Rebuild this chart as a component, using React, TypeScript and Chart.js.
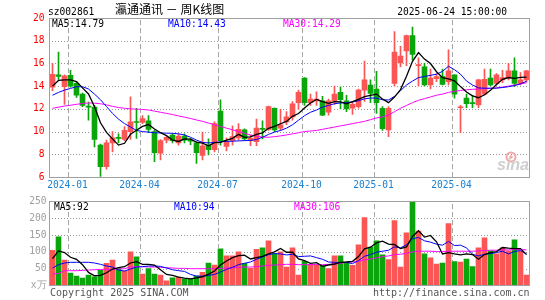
import React, { useEffect, useRef } from 'react';
import { Chart, registerables } from 'chart.js';
Chart.register(...registerables);

const weeks = [
  '2023-12-15','2023-12-22','2023-12-29','2024-01-05','2024-01-12','2024-01-19','2024-01-26','2024-02-02','2024-02-08','2024-02-23',
  '2024-03-01','2024-03-08','2024-03-15','2024-03-22','2024-03-29','2024-04-03','2024-04-12','2024-04-19','2024-04-26','2024-04-30',
  '2024-05-10','2024-05-17','2024-05-24','2024-05-31','2024-06-07','2024-06-14','2024-06-21','2024-06-28','2024-07-05','2024-07-12',
  '2024-07-19','2024-07-26','2024-08-02','2024-08-09','2024-08-16','2024-08-23','2024-08-30','2024-09-06','2024-09-13','2024-09-20',
  '2024-09-27','2024-09-30','2024-10-11','2024-10-18','2024-10-25','2024-11-01','2024-11-08','2024-11-15','2024-11-22','2024-11-29',
  '2024-12-06','2024-12-13','2024-12-20','2024-12-27','2025-01-03','2025-01-10','2025-01-17','2025-01-24','2025-01-27','2025-02-07',
  '2025-02-14','2025-02-21','2025-02-28','2025-03-07','2025-03-14','2025-03-21','2025-03-28','2025-04-03','2025-04-11','2025-04-18',
  '2025-04-25','2025-04-30','2025-05-09','2025-05-16','2025-05-23','2025-05-30','2025-06-06','2025-06-13','2025-06-20','2025-06-24',
];
const opens = [
  13.9,15.0,13.95,14.95,14.25,13.3,12.2,12.15,8.8,6.9,
  9.0,9.45,9.3,10.0,10.85,10.8,10.95,10.0,8.1,9.25,
  9.7,9.0,9.6,9.25,9.0,7.9,8.8,8.4,11.8,8.7,
  9.2,9.45,10.15,9.2,9.1,10.25,10.2,12.05,10.3,10.85,
  11.3,12.55,14.7,12.55,12.7,12.7,11.7,12.7,13.45,12.7,
  12.05,12.2,13.65,14.1,13.75,12.05,10.15,14.25,16.05,17.1,
  18.45,15.8,15.7,14.1,14.65,14.85,14.4,15.0,12.1,12.95,
  12.55,12.35,13.3,14.7,14.25,14.55,14.7,15.35,14.25,14.55,
];
const closes = [
  15.05,14.85,14.9,14.0,13.2,12.3,12.15,9.3,6.9,9.0,
  9.45,9.4,10.1,10.85,10.8,11.15,10.2,8.15,9.2,9.5,
  9.2,9.6,9.25,9.15,8.15,8.75,8.4,10.7,9.2,9.15,
  9.55,10.2,9.35,9.4,10.3,10.2,12.2,10.15,10.6,11.3,
  12.45,13.45,12.55,12.85,12.85,11.45,12.7,13.3,12.8,12.0,
  12.4,13.65,14.55,13.35,12.55,10.25,12.05,17.0,16.65,18.45,
  16.8,15.9,14.1,14.7,14.85,14.15,15.35,13.3,12.15,12.45,
  12.45,14.55,14.6,14.1,15.0,14.75,15.35,14.25,14.55,15.35,
];
const highs = [
  16.0,17.0,15.0,15.4,14.4,13.4,12.6,12.3,8.9,9.25,
  10.0,9.8,10.45,13.05,12.05,11.4,11.4,10.1,9.3,9.55,
  9.85,9.8,9.8,9.4,9.1,9.95,9.35,10.85,12.8,9.45,
  10.5,10.7,10.25,9.7,11.1,10.95,12.25,12.1,11.95,11.75,
  12.65,13.65,14.75,13.3,13.5,13.1,12.85,14.0,13.95,13.2,
  12.6,13.75,16.2,14.55,15.3,12.2,12.2,18.8,17.5,18.5,
  19.2,16.5,16.0,15.5,15.1,15.5,17.2,15.0,12.3,13.3,
  13.2,14.6,15.5,15.5,15.1,15.4,16.0,16.5,15.2,15.4,
];
const lows = [
  13.6,14.6,12.4,13.9,13.0,12.2,11.0,8.65,6.05,6.7,
  8.2,9.0,9.2,9.3,9.4,10.7,9.9,7.35,7.5,9.0,
  9.0,8.8,9.0,8.85,7.2,7.5,7.95,8.2,8.8,8.3,
  8.8,9.25,9.25,8.75,8.75,9.35,10.1,10.0,10.1,10.6,
  11.0,11.95,12.3,12.3,12.3,11.4,11.45,12.4,12.0,11.75,
  11.5,12.05,12.65,12.55,11.6,10.1,9.55,14.0,15.7,15.8,
  16.3,14.0,14.0,13.75,14.4,14.1,14.1,12.95,9.9,12.1,
  12.1,12.1,13.2,14.0,14.1,14.3,14.55,13.95,14.1,14.35,
];
const ma5 = [
  14.0,14.5,14.55,14.55,14.4,13.85,13.31,12.19,10.77,9.93,
  9.36,8.81,8.97,9.76,10.12,10.46,10.62,10.23,9.9,9.64,
  9.25,9.13,9.35,9.34,9.07,8.98,8.74,9.03,9.04,9.24,
  9.4,9.76,9.49,9.53,9.76,9.89,10.29,10.45,10.69,10.89,
  11.34,11.59,12.07,12.52,12.83,12.63,12.48,12.63,12.62,12.45,
  12.64,12.83,13.08,13.19,13.3,12.87,12.55,13.04,13.7,14.88,
  16.19,16.96,16.38,15.99,15.27,14.74,14.63,14.47,13.96,13.48,
  13.14,12.98,13.24,13.63,14.14,14.6,14.76,14.69,14.78,14.79,
];
const ma10 = [
  13.2,13.45,13.65,13.8,13.95,13.95,13.75,13.3,12.8,12.2,
  11.6,11.1,10.7,10.4,10.1,10.0,9.95,9.9,9.88,9.86,
  9.85,9.8,9.7,9.5,9.25,9.05,9.0,9.05,9.1,9.14,
  9.15,9.18,9.2,9.22,9.3,9.5,9.75,9.95,10.1,10.3,
  10.6,11.0,11.4,11.7,11.9,12.15,12.3,12.45,12.52,12.55,
  12.6,12.72,12.88,12.95,12.95,12.8,12.78,13.1,13.6,14.1,
  14.45,14.75,14.85,14.95,15.05,15.3,15.75,15.45,15.05,14.45,
  14.1,13.85,13.82,13.82,13.82,13.88,13.95,14.05,14.2,14.43,
];
const ma30 = [
  12.05,12.15,12.25,12.32,12.4,12.47,12.52,12.5,12.45,12.35,
  12.22,12.12,12.05,12.0,11.97,11.95,11.9,11.8,11.7,11.6,
  11.5,11.38,11.27,11.15,11.02,10.9,10.75,10.6,10.45,10.3,
  10.15,10.0,9.85,9.7,9.6,9.52,9.5,9.55,9.62,9.7,
  9.8,9.9,10.0,10.05,10.1,10.2,10.3,10.4,10.5,10.6,
  10.7,10.8,10.9,11.05,11.2,11.3,11.45,11.75,12.05,12.3,
  12.55,12.75,12.9,13.05,13.2,13.3,13.45,13.55,13.62,13.68,
  13.72,13.75,13.78,13.8,13.85,13.92,14.0,14.1,14.2,14.29,
];
const volumes = [
  105,145,76,37,28,22,31,26,45,66,
  76,50,44,100,85,34,50,34,31,14,
  23,25,19,18,28,39,67,61,109,88,
  88,100,66,51,108,112,133,95,100,55,
  112,31,72,62,62,59,50,88,88,67,
  60,121,202,114,133,91,77,193,55,157,
  255,162,94,82,64,67,184,71,70,79,
  56,112,142,103,94,112,103,136,103,31,
];
const volMa5 = [
  80,103,98,84,78,62,39,29,30,38,
  49,53,56,67,71,63,63,61,47,33,
  30,25,22,20,23,26,34,43,61,73,
  83,89,90,79,83,87,94,100,110,99,
  99,79,74,66,68,57,61,64,69,70,
  72,86,109,114,127,132,123,122,110,115,
  146,163,144,149,130,94,98,94,91,94,
  92,78,92,98,101,113,111,110,110,92,
];
const volMa10 = [
  52,62,67,69,69,69,69,67,63,58,
  55,46,43,49,55,56,58,58,57,52,
  47,44,42,33,28,28,30,33,40,48,
  54,62,66,70,78,85,92,95,94,91,
  93,86,87,88,83,78,70,69,68,69,
  65,74,87,92,99,102,105,115,112,121,
  139,143,133,129,123,120,131,119,120,112,
  93,88,93,95,98,102,94,101,104,94,
];
const volMa30 = [
  34,36,44,44,44,45,46,47,48,48,
  48,49,50,55,56,56,55,55,54,53,
  52,51,51,50,50,50,50,50,51,52,
  53,54,55,55,56,58,60,61,62,63,
  63,62,62,62,62,62,63,64,66,69,
  70,72,76,79,82,86,88,92,93,96,
  100,102,102,102,101,101,102,102,102,102,
  102,103,104,105,105,106,106,107,107,106,
];
const priceTicks = [6, 8, 10, 12, 14, 16, 18, 20];
const volumeTicks = [0, 50, 100, 150, 200, 250];

const RED = '#fa5656';
const GREEN = '#0aa50a';
const MONO = '"DejaVu Sans Mono", monospace';
const last = (a: number[]) => a[a.length - 1];
const colorAt = (i: number) => (closes[i] >= opens[i] ? RED : GREEN);
const quarterStart = (i: any) => {
  if (typeof i !== 'number' || i <= 0 || i >= weeks.length) return false;
  const m = weeks[i].slice(5, 7);
  return weeks[i - 1].slice(5, 7) !== m && ['01', '04', '07', '10'].includes(m);
};

const xScale = (showLabels: boolean, h: number) => ({
  type: 'category' as const,
  offset: true,
  afterFit: (a: any) => { a.height = h; },
  grid: { display: false, drawTicks: false },
  border: { display: false },
  ticks: {
    display: showLabels,
    autoSkip: false,
    maxRotation: 0,
    minRotation: 0,
    labelOffset: -3,
    padding: 3,
    color: '#1a80d0',
    font: { family: MONO, size: 9.6 },
    callback: (_v: any, i: number) => (quarterStart(i) ? weeks[i].slice(0, 7) : ''),
  },
});

// Grid pixels placed with the chart's own scales; only background pixels are painted,
// so the grid stays behind the candles, bars and lines.
const paintGrid = (chart: any, ticks: number[]) => {
  const { ctx, chartArea: a, scales } = chart;
  const x = scales.x, y = scales.y;
  const W = chart.canvas.width, H = chart.canvas.height;
  const img = ctx.getImageData(0, 0, W, H);
  const d = img.data;
  const put = (px: number, py: number, g: number) => {
    if (px < 0 || py < 0 || px >= W || py >= H) return;
    const k = (py * W + px) * 4;
    const bg = d[k + 3] < 40 || (d[k] > 240 && d[k + 1] > 240 && d[k + 2] > 240);
    if (!bg) return;
    d[k] = g; d[k + 1] = g; d[k + 2] = g; d[k + 3] = 255;
  };
  const L = Math.round(a.left), R = Math.round(a.right), T = Math.round(a.top), B = Math.round(a.bottom);
  ticks.slice(1, -1).forEach((v) => {
    const py = Math.round(y.getPixelForValue(v));
    for (let px = L + 2; px < R; px += 3) put(px, py, 150);
  });
  const half = (x.getPixelForValue(1) - x.getPixelForValue(0)) / 2;
  for (let i = 0; i < weeks.length; i++) {
    if (!quarterStart(i)) continue;
    const px = Math.round(x.getPixelForValue(i) - half);
    for (let py = T + 2; py < B; py++) {
      if ((py - T - 2) % 8 < 5) put(px, py, 165);
    }
  }
  ctx.putImageData(img, 0, 0);
};

const frame = (chart: any) => {
  const { ctx, chartArea: a } = chart;
  const x0 = Math.floor(a.left) + 0.5, y0 = Math.floor(a.top) + 0.5;
  const x1 = Math.floor(a.right) + 0.5, y1 = Math.floor(a.bottom) + 0.5;
  ctx.save();
  ctx.strokeStyle = '#a0a0a0';
  ctx.lineWidth = 1;
  ctx.strokeRect(x0, y0, x1 - x0, y1 - y0);
  ctx.restore();
};

const lineDs = (label: string, data: number[], color: string, w = 1) => ({
  type: 'line' as const,
  label,
  data,
  borderColor: color,
  borderWidth: w,
  pointRadius: 0,
  tension: 0,
  fill: false,
  order: 0,
});

export default function App() {
  const priceRef = useRef<HTMLCanvasElement>(null);
  const volRef = useRef<HTMLCanvasElement>(null);

  useEffect(() => {
    const pricePlugin = {
      id: 'priceDecor',
      afterDatasetsDraw(chart: any) {
        paintGrid(chart, priceTicks);
      },
      afterDraw(chart: any) {
        frame(chart);
        const ctx = chart.ctx;
        ctx.save();
        ctx.textBaseline = 'alphabetic';
        ctx.fillStyle = '#000';
        ctx.font = `9.6px ${MONO}`;
        ctx.textAlign = 'left';
        ctx.fillText('sz002861', 48, 15);
        ctx.textAlign = 'right';
        ctx.fillText('2025-06-24 15:00:00', 507, 15);
        ctx.textAlign = 'left';
        ctx.font = '12px "Noto Sans CJK SC", sans-serif';
        ctx.fillText('瀛通通讯 － 周K线图', 115, 14);
        ctx.font = `9.6px ${MONO}`;
        ctx.fillStyle = '#000';
        ctx.fillText(`MA5:${last(ma5).toFixed(2)}`, 52, 26.5);
        ctx.fillStyle = '#0000ff';
        ctx.fillText(`MA10:${last(ma10).toFixed(2)}`, 168, 26.5);
        ctx.fillStyle = '#ff00ff';
        ctx.fillText(`MA30:${last(ma30).toFixed(2)}`, 283, 26.5);
        ctx.strokeStyle = '#f2a8a8';
        ctx.lineWidth = 2;
        ctx.beginPath();
        ctx.arc(511, 157, 4.5, 0, Math.PI * 2);
        ctx.stroke();
        ctx.fillStyle = '#f2a8a8';
        ctx.beginPath();
        ctx.arc(511, 157, 1.8, 0, Math.PI * 2);
        ctx.fill();
        ctx.fillStyle = '#cfcfcf';
        ctx.font = 'italic bold 16px "Liberation Sans", sans-serif';
        ctx.textAlign = 'right';
        ctx.fillText('sina', 529, 170);
        ctx.restore();
      },
    };

    const volPlugin = {
      id: 'volDecor',
      afterDatasetsDraw(chart: any) {
        paintGrid(chart, volumeTicks);
      },
      afterDraw(chart: any) {
        frame(chart);
        const ctx = chart.ctx;
        ctx.save();
        ctx.textBaseline = 'alphabetic';
        ctx.textAlign = 'left';
        ctx.font = `9.6px ${MONO}`;
        ctx.fillStyle = '#000';
        ctx.fillText(`MA5:${last(volMa5)}`, 54, 209.5);
        ctx.fillStyle = '#0000ff';
        ctx.fillText(`MA10:${last(volMa10)}`, 174, 209.5);
        ctx.fillStyle = '#ff00ff';
        ctx.fillText(`MA30:${last(volMa30)}`, 294, 209.5);
        ctx.font = `10px ${MONO}`;
        ctx.fillStyle = '#555';
        ctx.fillText('Copyright 2025 SINA.COM', 50, 296);
        ctx.textAlign = 'right';
        ctx.fillText('http://finance.sina.com.cn', 529.5, 296);
        ctx.restore();
      },
    };

    const c1 = new Chart(priceRef.current as HTMLCanvasElement, {
      type: 'bar',
      data: {
        labels: weeks,
        datasets: [
          lineDs('MA5', ma5, '#000000', 1.3) as any,
          lineDs('MA10', ma10, '#0000ff') as any,
          lineDs('MA30', ma30, '#ff00ff') as any,
          {
            type: 'bar',
            label: 'body',
            data: opens.map((o, i) => [o, closes[i]]),
            backgroundColor: (c: any) => colorAt(c.dataIndex),
            barThickness: 5,
            grouped: false,
            minBarLength: 1,
            borderWidth: 0,
            order: 2,
          } as any,
          {
            type: 'bar',
            label: 'wick',
            data: lows.map((l, i) => [l, highs[i]]),
            backgroundColor: (c: any) => colorAt(c.dataIndex),
            barThickness: 1,
            grouped: false,
            borderWidth: 0,
            order: 3,
          } as any,
        ],
      },
      options: {
        animation: false,
        responsive: false,
        devicePixelRatio: 1,
        events: [],
        layout: { padding: { left: 0, top: 18, right: 15.5, bottom: 103 } },
        plugins: { legend: { display: false }, tooltip: { enabled: false } },
        scales: {
          x: xScale(true, 20) as any,
          y: {
            min: priceTicks[0],
            max: priceTicks[priceTicks.length - 1],
            afterFit: (a: any) => { a.width = 49.5; },
            afterBuildTicks: (a: any) => { a.ticks = priceTicks.map((v) => ({ value: v })); },
            grid: { display: false, drawTicks: false },
            border: { display: false },
            ticks: { color: '#ff0000', padding: 5, font: { family: MONO, size: 9.6 } },
          } as any,
        },
      },
      plugins: [pricePlugin],
    });

    const c2 = new Chart(volRef.current as HTMLCanvasElement, {
      type: 'bar',
      data: {
        labels: weeks,
        datasets: [
          lineDs('MA5', volMa5, '#000000', 1.3) as any,
          lineDs('MA10', volMa10, '#0000ff') as any,
          lineDs('MA30', volMa30, '#ff00ff') as any,
          {
            type: 'bar',
            label: 'volume',
            data: volumes,
            backgroundColor: (c: any) => colorAt(c.dataIndex),
            barThickness: 5,
            grouped: false,
            borderWidth: 0,
            order: 2,
          } as any,
        ],
      },
      options: {
        animation: false,
        responsive: false,
        devicePixelRatio: 1,
        events: [],
        layout: { padding: { left: 0, top: 201.5, right: 15.5, bottom: 14.5 } },
        plugins: { legend: { display: false }, tooltip: { enabled: false } },
        scales: {
          x: xScale(false, 0) as any,
          y: {
            min: volumeTicks[0],
            max: volumeTicks[volumeTicks.length - 1],
            afterFit: (a: any) => { a.width = 49.5; },
            afterBuildTicks: (a: any) => { a.ticks = volumeTicks.map((v) => ({ value: v })); },
            grid: { display: false, drawTicks: false },
            border: { display: false },
            ticks: {
              color: '#a0a0a0',
              padding: 3,
              font: { family: MONO, size: 9.6 },
              callback: (v: any) => (v === 0 ? 'x万' : String(v)),
            },
          } as any,
        },
      },
      plugins: [volPlugin],
    });

    return () => {
      c1.destroy();
      c2.destroy();
    };
  }, []);

  return (
    <div style={{ position: 'absolute', left: 0, top: 0, width: 545, height: 300, background: '#fff' }}>
      <canvas ref={priceRef} width={545} height={300} style={{ position: 'absolute', left: 0, top: 0 }} />
      <canvas ref={volRef} width={545} height={300} style={{ position: 'absolute', left: 0, top: 0 }} />
    </div>
  );
}
